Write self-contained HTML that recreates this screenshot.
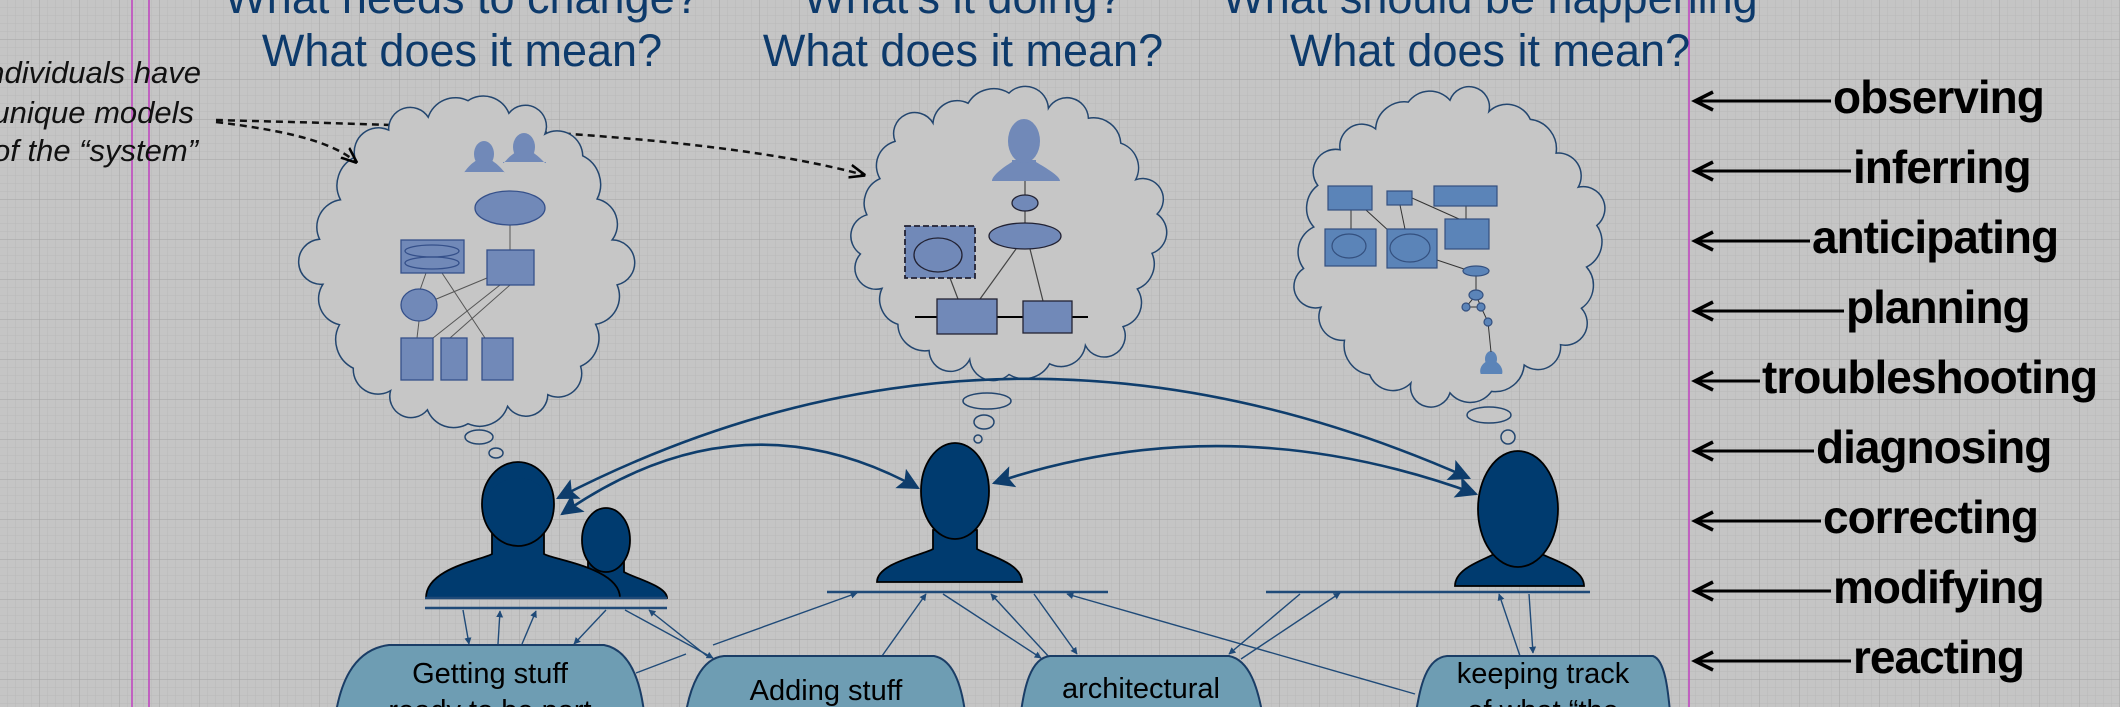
<!DOCTYPE html>
<html><head><meta charset="utf-8"><style>
html,body{margin:0;padding:0;width:2120px;height:707px;overflow:hidden;background:#c5c5c5}
svg{display:block}
text{font-family:"Liberation Sans",Arial,sans-serif}
</style></head><body>
<svg id="s" width="2120" height="707" viewBox="0 0 2120 707" xmlns="http://www.w3.org/2000/svg">
<defs>
<pattern id="gm" width="8" height="8" patternUnits="userSpaceOnUse"><path d="M8 0V8H0" fill="none" stroke="#b9b9b9" stroke-width="1"/></pattern>
<pattern id="gM" width="40" height="40" patternUnits="userSpaceOnUse"><path d="M40 0V40H0" fill="none" stroke="#a9a9a9" stroke-width="1.2"/></pattern>
<marker id="ah" viewBox="0 0 10 10" refX="9" refY="5" markerWidth="7" markerHeight="7" orient="auto-start-reverse" markerUnits="userSpaceOnUse"><path d="M0,0 L10,5 L0,10 z" fill="#1f4a78"/></marker>
<marker id="bh" viewBox="0 0 10 10" refX="9" refY="5" markerWidth="22" markerHeight="22" orient="auto-start-reverse" markerUnits="userSpaceOnUse"><path d="M0,0 L10,5 L0,10 L2,5 z" fill="#0e3d6c"/></marker>
<marker id="dh" viewBox="0 0 10 10" refX="9" refY="5" markerWidth="16" markerHeight="16" orient="auto" markerUnits="userSpaceOnUse"><path d="M0,1 L10,5 L0,9" fill="none" stroke="#000" stroke-width="1.6"/></marker>
</defs>
<rect width="2120" height="707" fill="#c5c5c5"/>
<rect width="2120" height="707" fill="url(#gm)"/>
<rect width="2120" height="707" fill="url(#gM)"/>
<line x1="132" y1="0" x2="132" y2="707" stroke="#c040c0" stroke-width="1.5"/>
<line x1="149" y1="0" x2="149" y2="707" stroke="#c040c0" stroke-width="1.5"/>
<line x1="1689" y1="0" x2="1689" y2="707" stroke="#c040c0" stroke-width="1.5"/>

<g fill="#0d3a6b" font-size="45" text-anchor="middle">
<text x="462" y="13">What needs to change?</text>
<text x="462" y="66">What does it mean?</text>
<text x="963" y="13">What’s it doing?</text>
<text x="963" y="66">What does it mean?</text>
<text x="1490" y="13">What should be happening</text>
<text x="1490" y="66">What does it mean?</text>
</g>

<g font-size="31" font-style="italic" text-anchor="end" fill="#111">
<text x="201" y="83">individuals have</text>
<text x="194" y="123">unique models</text>
<text x="198" y="161">of the “system”</text>
</g>

<path d="M216,120 C400,125 700,130 864,175" fill="none" stroke="#111" stroke-width="2.5" stroke-dasharray="7,5" marker-end="url(#dh)"/>

<g id="clouds" fill="#c6c6c6" stroke="#23466f" stroke-width="1.5"></g>

<path d="M216,122 C280,130 330,140 356,162" fill="none" stroke="#111" stroke-width="2.5" stroke-dasharray="7,5" marker-end="url(#dh)"/>

<g fill="#c6c6c6" stroke="#23466f" stroke-width="1.5">
<ellipse cx="479" cy="437" rx="14" ry="7"/><ellipse cx="496" cy="453" rx="7" ry="5"/>
<ellipse cx="987" cy="401" rx="24" ry="8"/><ellipse cx="984" cy="422" rx="10" ry="7"/><ellipse cx="978" cy="439" rx="4" ry="4"/>
<ellipse cx="1489" cy="415" rx="22" ry="8"/><ellipse cx="1508" cy="437" rx="7" ry="7"/>
</g>

<g fill="#7189b8" stroke="#35508a" stroke-width="1.3">
<g stroke="#555" stroke-width="1" fill="none">
<line x1="510" y1="225" x2="510" y2="250"/>
<line x1="426" y1="273" x2="420" y2="290"/>
<line x1="434" y1="300" x2="487" y2="278"/>
<line x1="442" y1="273" x2="485" y2="338"/>
<line x1="433" y1="338" x2="500" y2="285"/>
<line x1="450" y1="338" x2="510" y2="285"/>
<line x1="419" y1="321" x2="417" y2="338"/>
</g>
<ellipse cx="510" cy="208" rx="35" ry="17"/>
<rect x="401" y="240" width="63" height="33"/>
<ellipse cx="432" cy="251" rx="27" ry="6" fill="none"/>
<ellipse cx="432" cy="263" rx="27" ry="6" fill="none"/>
<rect x="487" y="250" width="47" height="35"/>
<ellipse cx="419" cy="305" rx="18" ry="16"/>
<rect x="401" y="338" width="32" height="42"/>
<rect x="441" y="338" width="26" height="42"/>
<rect x="482" y="338" width="31" height="42"/>
</g>
<g id="icons" fill="#7189b8" stroke="none"></g>

<g fill="#7189b8" stroke="#223" stroke-width="1.3">
<g stroke="#444" stroke-width="1.2" fill="none">
<line x1="1025" y1="181" x2="1025" y2="223"/>
<line x1="950" y1="278" x2="958" y2="299"/>
<line x1="1016" y1="249" x2="980" y2="299"/>
<line x1="1030" y1="249" x2="1043" y2="301"/>
</g>
<line x1="915" y1="317" x2="1088" y2="317" stroke="#000" stroke-width="2"/>
<ellipse cx="1025" cy="203" rx="13" ry="8"/>
<ellipse cx="1025" cy="236" rx="36" ry="13"/>
<rect x="905" y="226" width="70" height="52" stroke-dasharray="6,3" stroke-width="1.8"/>
<ellipse cx="938" cy="255" rx="24" ry="17"/>
<rect x="937" y="299" width="60" height="35"/>
<rect x="1023" y="301" width="49" height="32"/>
</g>

<g fill="#5b84b8" stroke="#34507f" stroke-width="1.2">
<g stroke="#333" stroke-width="1" fill="none">
<line x1="1351" y1="210" x2="1351" y2="229"/>
<line x1="1366" y1="210" x2="1402" y2="243"/>
<line x1="1400" y1="205" x2="1406" y2="234"/>
<line x1="1412" y1="198" x2="1459" y2="219"/>
<line x1="1466" y1="206" x2="1466" y2="219"/>
<line x1="1428" y1="257" x2="1470" y2="271"/>
<polyline points="1476,276 1476,295 1466,307 1481,307 1488,322 1491,352"/>
<line x1="1476" y1="295" x2="1481" y2="307"/>
</g>
<rect x="1328" y="186" width="44" height="24"/>
<rect x="1387" y="191" width="25" height="14"/>
<rect x="1434" y="186" width="63" height="20"/>
<rect x="1325" y="229" width="51" height="37"/>
<ellipse cx="1349" cy="246" rx="17" ry="12" fill="none"/>
<rect x="1387" y="229" width="50" height="39"/>
<ellipse cx="1410" cy="248" rx="20" ry="14" fill="none"/>
<rect x="1445" y="219" width="44" height="30"/>
<ellipse cx="1476" cy="271" rx="13" ry="5"/>
<ellipse cx="1476" cy="295" rx="7" ry="5"/>
<circle cx="1466" cy="307" r="4"/><circle cx="1481" cy="307" r="4"/><circle cx="1488" cy="322" r="4"/>
</g>

<g fill="none" stroke="#0e3d6c" stroke-width="2.6" marker-start="url(#bh)" marker-end="url(#bh)">
<path d="M558,498 Q1000,270 1469,478"/>
<path d="M562,514 Q740,390 918,488"/>
<path d="M994,483 Q1230,404 1476,494"/>
</g>

<g id="people" fill="#003b6f" stroke="#000" stroke-width="1.8"></g>

<g stroke="#1f4a78" stroke-width="2.5">
<line x1="425" y1="598" x2="667" y2="598"/>
<line x1="425" y1="608" x2="667" y2="608"/>
<line x1="827" y1="592" x2="1108" y2="592"/>
<line x1="1266" y1="592" x2="1590" y2="592"/>
</g>

<g stroke="#1f4a78" stroke-width="1.4" fill="none" marker-end="url(#ah)">
<line x1="463" y1="610" x2="469" y2="644"/>
<line x1="498" y1="644" x2="500" y2="611"/>
<line x1="522" y1="644" x2="536" y2="611"/>
<line x1="606" y1="610" x2="574" y2="644"/>
<line x1="625" y1="610" x2="713" y2="658"/>
<line x1="707" y1="656" x2="649" y2="610"/>
<line x1="713" y1="645" x2="857" y2="593"/>
<line x1="882" y1="656" x2="926" y2="594"/>
<line x1="943" y1="594" x2="1041" y2="658"/>
<line x1="1050" y1="658" x2="991" y2="594"/>
<line x1="1034" y1="594" x2="1077" y2="654"/>
<line x1="1415" y1="694" x2="1067" y2="594"/>
<line x1="1300" y1="594" x2="1229" y2="654"/>
<line x1="1241" y1="659" x2="1340" y2="593"/>
<line x1="1520" y1="656" x2="1499" y2="594"/>
<line x1="1529" y1="594" x2="1533" y2="653"/>
</g>
<line x1="636" y1="673" x2="686" y2="654" stroke="#1f4a78" stroke-width="1.4"/>

<g fill="#6e9db3" stroke="#1a3d66" stroke-width="2">
<path d="M336,712 C340,690 350,650 389,645 L604,645 C630,650 640,680 644,712 Z"/>
<path d="M686,712 C690,690 700,658 724,656 L934,656 C955,660 962,690 965,712 Z"/>
<path d="M1021,712 C1024,690 1030,658 1050,656 L1229,656 C1250,660 1258,690 1262,712 Z"/>
<path d="M1416,712 C1420,690 1425,658 1447,656 L1653,656 C1665,660 1668,690 1670,712 Z"/>
</g>
<g font-size="29" text-anchor="middle" fill="#000">
<text x="490" y="683">Getting stuff</text>
<text x="490" y="720">ready to be part</text>
<text x="826" y="700">Adding stuff</text>
<text x="1141" y="698">architectural</text>
<text x="1543" y="683">keeping track</text>
<text x="1543" y="720">of what “the</text>
</g>

<g id="labels"></g>
</svg>
<script>
var NS="http://www.w3.org/2000/svg";
function el(p,tag,a){var e=document.createElementNS(NS,tag);for(var k in a)e.setAttribute(k,a[k]);p.appendChild(e);return e;}
function cloud(cx,cy,rx,ry,n,seed){
  var pts=[];for(var i=0;i<n;i++){var t=i/n*Math.PI*2-Math.PI/2;var w=1+0.04*Math.sin(i*2.3+seed);pts.push([cx+rx*w*Math.cos(t),cy+ry*w*Math.sin(t)]);}
  var d="M"+pts[0][0].toFixed(1)+","+pts[0][1].toFixed(1);
  for(var i=1;i<=n;i++){var a=pts[(i-1)%n],b=pts[i%n];var c=Math.hypot(b[0]-a[0],b[1]-a[1]);var r=c*(0.6+0.1*Math.sin(i*1.7+seed));d+=" A"+r.toFixed(1)+","+r.toFixed(1)+" 0 0 1 "+b[0].toFixed(1)+","+b[1].toFixed(1);}
  return d+"Z";
}
var cg=document.getElementById("clouds");
el(cg,"path",{d:cloud(468,262,146,156,22,1)});
el(cg,"path",{d:cloud(1009,234,145,136,22,2)});
el(cg,"path",{d:cloud(1450,247,143,146,22,3)});
function person(g,cx,top,hrx,hry,neckY,nw,sy,bl,br,bot,attrs){
  var d="M"+bl+","+bot+" C"+bl+","+(sy+8)+" "+(cx-nw-10)+","+(sy)+" "+(cx-nw)+","+(sy-6)+" L"+(cx-nw)+","+neckY+
  " L"+(cx+nw)+","+neckY+" L"+(cx+nw)+","+(sy-6)+" C"+(cx+nw+10)+","+sy+" "+br+","+(sy+8)+" "+br+","+bot+" Z";
  var a1={d:d};for(var k in attrs)a1[k]=attrs[k];el(g,"path",a1);
  var a2={cx:cx,cy:top+hry,rx:hrx,ry:hry};for(var k in attrs)a2[k]=attrs[k];el(g,"ellipse",a2);
}
var pg=document.getElementById("people");
person(pg,606,508,24,32,555,18,578,560,667,598,{});
person(pg,518,462,36,42,530,26,560,426,620,598,{});
el(pg,"ellipse",{cx:518,cy:510,rx:34,ry:32,stroke:"none"});
person(pg,955,443,34,48,530,22,555,877,1022,582,{});
person(pg,1518,451,40,58,545,24,560,1455,1584,586,{});
var ig=document.getElementById("icons");
person(ig,484,141,10,13,160,7,166,464,505,172,{});
person(ig,524,133,11,14,152,8,158,503,546,162,{});
person(ig,1024,119,16,22,160,12,168,992,1060,181,{});
person(ig,1491,351,6,8,364,4,367,1481,1502,374,{fill:"#5b84b8"});
var lg=document.getElementById("labels");
var L=[["observing",101,1831],["inferring",171,1851],["anticipating",241,1810],["planning",311,1844],["troubleshooting",381,1760],["diagnosing",451,1814],["correcting",521,1821],["modifying",591,1831],["reacting",661,1851]];
L.forEach(function(l){
  el(lg,"line",{x1:1695,y1:l[1],x2:l[2],y2:l[1],stroke:"#000","stroke-width":3});
  el(lg,"path",{d:"M1713,"+(l[1]-9)+" L1695,"+l[1]+" L1713,"+(l[1]+9),fill:"none",stroke:"#000","stroke-width":3.5});
  var t=el(lg,"text",{x:l[2]+2,y:l[1]+12,"font-size":"46","font-weight":"bold",fill:"#000","letter-spacing":"-1"});
  t.textContent=l[0];
});
</script>
</body></html>
